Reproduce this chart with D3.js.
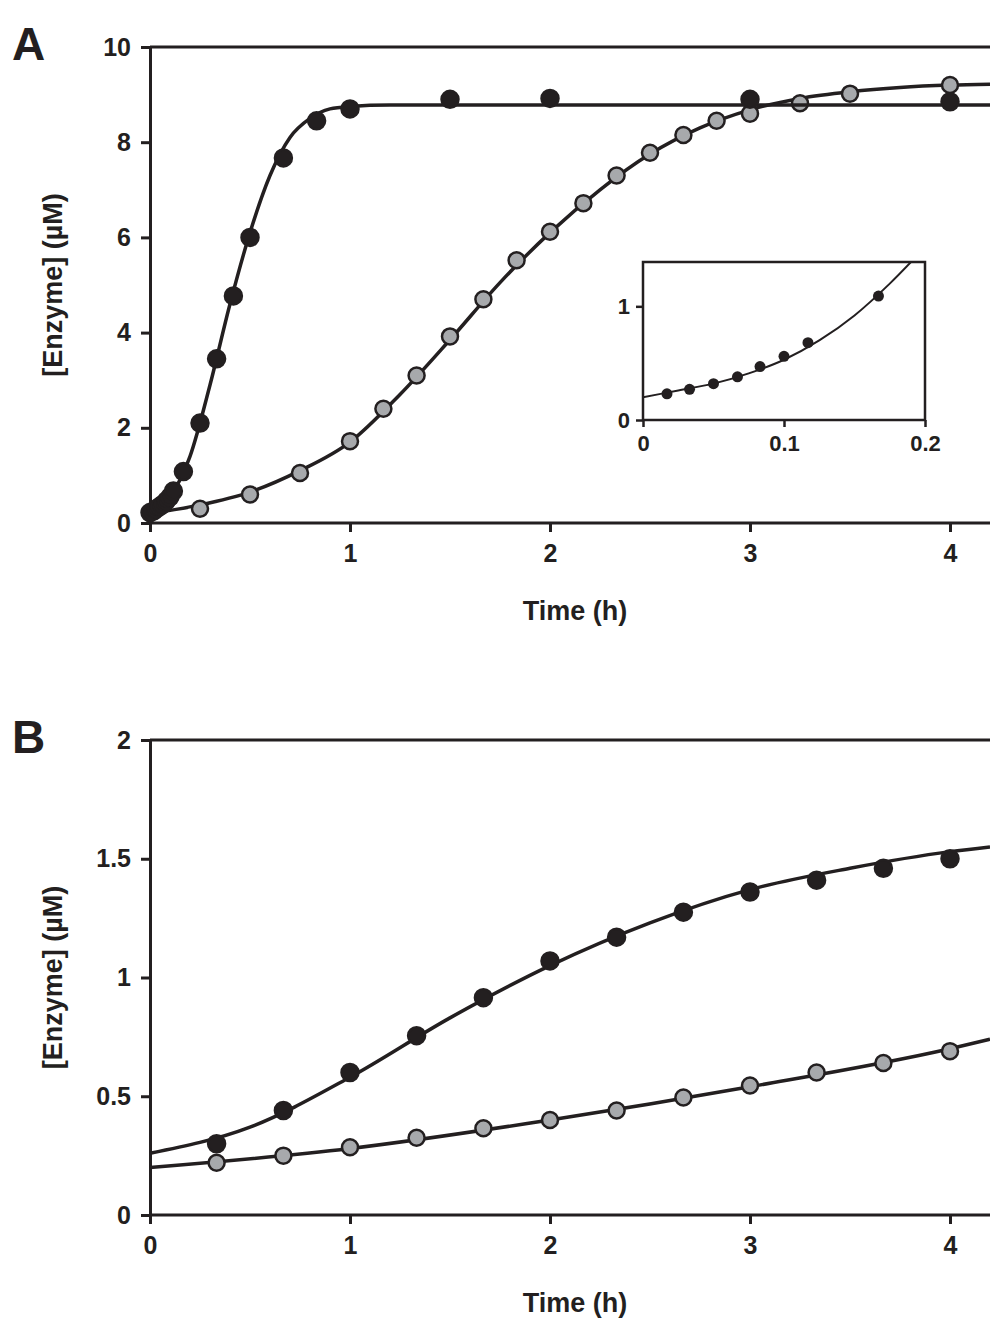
<!DOCTYPE html>
<html><head><meta charset="utf-8">
<script src="https://cdn.jsdelivr.net/npm/d3@7"></script>
<style>body{margin:0;background:#fff}svg,svg text{font-family:"Liberation Sans",Arial,sans-serif;font-weight:bold}</style>
</head><body><div id="chart"></div>
<script>
// Panel A data
const aBlackPts = [[0,0.22],[0.017,0.25],[0.033,0.3],[0.05,0.35],[0.067,0.4],[0.083,0.47],[0.1,0.55],[0.117,0.67],[0.167,1.08],[0.25,2.1],[0.333,3.45],[0.417,4.77],[0.5,6.0],[0.667,7.67],[0.833,8.45],[1,8.7],[1.5,8.9],[2,8.92],[3,8.9],[4,8.85]];
const aGrayPts = [[0.25,0.3],[0.5,0.6],[0.75,1.05],[1,1.72],[1.167,2.4],[1.333,3.1],[1.5,3.92],[1.667,4.7],[1.833,5.52],[2,6.12],[2.167,6.72],[2.333,7.3],[2.5,7.78],[2.667,8.15],[2.833,8.45],[3,8.6],[3.25,8.82],[3.5,9.02],[4,9.2]];
const aBlackFit = [[0,0.2],[0.1,0.55],[0.2,1.4],[0.3,2.9],[0.4,4.6],[0.5,6.1],[0.6,7.3],[0.7,8.1],[0.8,8.5],[0.9,8.7],[1,8.75],[1.2,8.78],[4.2,8.78]];
const aGrayFit = [[0,0.2],[0.25,0.38],[0.5,0.65],[0.75,1.1],[1,1.7],[1.25,2.7],[1.5,3.85],[1.75,5.05],[2,6.1],[2.25,7.0],[2.5,7.75],[2.75,8.3],[3,8.68],[3.25,8.92],[3.5,9.06],[3.75,9.15],[4,9.2],[4.2,9.22]];
const insetPts = [[0.017,0.23],[0.033,0.27],[0.05,0.32],[0.067,0.38],[0.083,0.47],[0.1,0.56],[0.117,0.68],[0.167,1.09]];
const insetFit = [[0,0.2],[0.025,0.26],[0.05,0.32],[0.075,0.41],[0.1,0.53],[0.125,0.7],[0.15,0.92],[0.175,1.2],[0.2,1.52]];
// Panel B data
const bBlackPts = [[0.333,0.3],[0.667,0.44],[1,0.6],[1.333,0.755],[1.667,0.915],[2,1.07],[2.333,1.17],[2.667,1.275],[3,1.36],[3.333,1.41],[3.667,1.46],[4,1.5]];
const bGrayPts = [[0.333,0.22],[0.667,0.25],[1,0.285],[1.333,0.325],[1.667,0.365],[2,0.4],[2.333,0.44],[2.667,0.495],[3,0.545],[3.333,0.6],[3.667,0.64],[4,0.69]];
const bBlackFit = [[0,0.26],[0.5,0.37],[1,0.58],[1.5,0.83],[2,1.05],[2.5,1.23],[3,1.37],[3.5,1.46],[4,1.53],[4.2,1.55]];
const bGrayFit = [[0,0.2],[1,0.28],[2,0.4],[3,0.54],[4,0.7],[4.2,0.74]];
const xTicks = [0,1,2,3,4];
const aYTicks = [0,2,4,6,8,10];
const bYTicks = [0,0.5,1,1.5,2];

const ink = '#231f20';
const svg = d3.select('#chart').append('svg').attr('width',990).attr('height',1320);
const x = d3.scaleLinear().domain([0,4.2]).range([150,990]);

function styleAxis(a, size, fs) {
  a.attr('font-family', null).attr('font-size', null);
  a.selectAll('line').attr('stroke-width', size).attr('stroke', ink);
  a.selectAll('text').attr('font-size', fs).attr('fill', ink);
}

function panel(y, yTicks, fmt, top, bottom, letter, series) {
  const g = svg.append('g');
  g.append('line').attr('x1',150).attr('x2',990).attr('y1',top).attr('y2',top).attr('stroke',ink).attr('stroke-width',3);
  g.append('g').attr('transform','translate(0,'+bottom+')')
    .call(d3.axisBottom(x).tickValues(xTicks).tickSize(9).tickPadding(12).tickFormat(d3.format('d')))
    .call(a => { styleAxis(a, 3, 25); a.select('.domain').attr('stroke-width',3).attr('stroke',ink).attr('d','M150,0H990'); });
  g.append('g').attr('transform','translate(150,0)')
    .call(d3.axisLeft(y).tickValues(yTicks).tickSize(9).tickPadding(10).tickFormat(fmt))
    .call(a => { styleAxis(a, 3, 25); a.select('.domain').attr('stroke-width',3).attr('stroke',ink); });
  g.append('text').attr('x',575).attr('y',bottom+97).attr('text-anchor','middle').attr('font-size',27).attr('fill',ink).text('Time (h)');
  g.append('text').attr('transform','translate(62,'+((top+bottom)/2)+') rotate(-90)').attr('text-anchor','middle').attr('font-size',27).attr('fill',ink).text('[Enzyme] (µM)');
  g.append('text').attr('x',12).attr('y',top+13).attr('font-size',46).attr('fill',ink).text(letter);
  const line = d3.line().x(d=>x(d[0])).y(d=>y(d[1])).curve(d3.curveMonotoneX);
  series.forEach(s => {
    g.append('path').attr('d',line(s.fit)).attr('fill','none').attr('stroke',ink).attr('stroke-width',3.5);
    g.selectAll(null).data(s.pts).enter().append('circle')
      .attr('cx',d=>x(d[0])).attr('cy',d=>y(d[1])).attr('r',s.r)
      .attr('fill',s.fill).attr('stroke',ink).attr('stroke-width',2.5);
  });
}

const yA = d3.scaleLinear().domain([0,10]).range([523,47]);
panel(yA, aYTicks, d3.format('d'), 47, 523, 'A', [
  {fit:aGrayFit, pts:aGrayPts, fill:'#a7a9ac', r:8},
  {fit:aBlackFit, pts:aBlackPts, fill:ink, r:8.5}
]);
const yB = d3.scaleLinear().domain([0,2]).range([1215,740]);
panel(yB, bYTicks, d3.format(''), 740, 1215, 'B', [
  {fit:bGrayFit, pts:bGrayPts, fill:'#a7a9ac', r:8},
  {fit:bBlackFit, pts:bBlackPts, fill:ink, r:8.5}
]);

// Inset
const xi = d3.scaleLinear().domain([0,0.2]).range([643,925]);
const yi = d3.scaleLinear().domain([0,1.39]).range([420,262]);
const ig = svg.append('g');
ig.append('clipPath').attr('id','ic').append('rect').attr('x',643).attr('y',262).attr('width',282).attr('height',158);
ig.append('rect').attr('x',643).attr('y',262).attr('width',282).attr('height',158).attr('fill','#fff').attr('stroke',ink).attr('stroke-width',2.5);
ig.append('g').attr('transform','translate(0,420)')
  .call(d3.axisBottom(xi).tickValues([0,0.1,0.2]).tickSize(7).tickPadding(8).tickFormat(d3.format('')))
  .call(a => { a.select('.domain').remove(); styleAxis(a, 2.5, 22); });
ig.append('g').attr('transform','translate(643,0)')
  .call(d3.axisLeft(yi).tickValues([0,1]).tickSize(7).tickPadding(6).tickFormat(d3.format('d')))
  .call(a => { a.select('.domain').remove(); styleAxis(a, 2.5, 22); });
ig.append('path').attr('clip-path','url(#ic)')
  .attr('d', d3.line().x(d=>xi(d[0])).y(d=>yi(d[1])).curve(d3.curveMonotoneX)(insetFit))
  .attr('fill','none').attr('stroke',ink).attr('stroke-width',2);
ig.selectAll(null).data(insetPts).enter().append('circle')
  .attr('cx',d=>xi(d[0])).attr('cy',d=>yi(d[1])).attr('r',5.5).attr('fill',ink);
</script></body></html>
